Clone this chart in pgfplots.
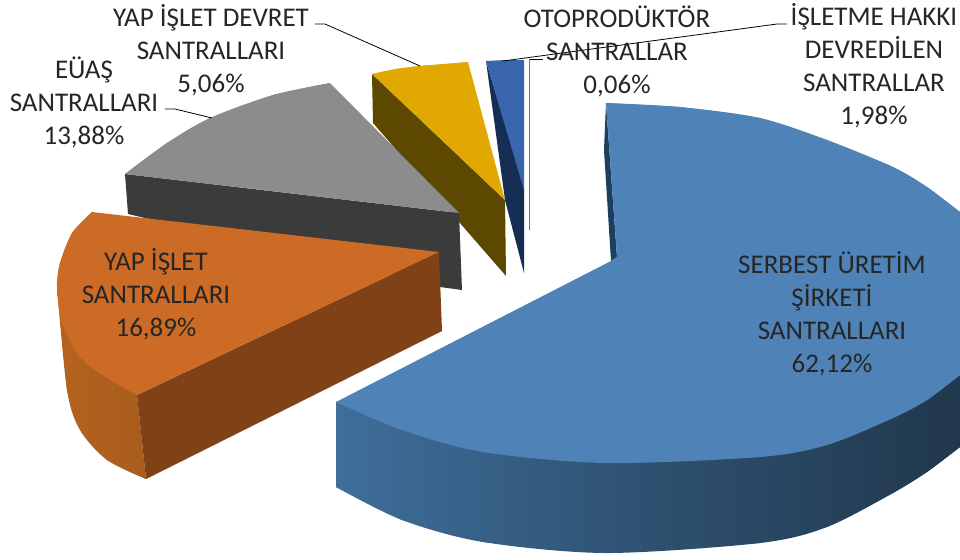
\documentclass[border=0pt]{standalone}
\usepackage{fontspec}
\setmainfont{Carlito}
\usepackage{pgfplots}
\pgfplotsset{compat=1.18}
\definecolor{TXT}{HTML}{262626}
\definecolor{BLUE}{HTML}{4F83B7}
\definecolor{BLUED}{HTML}{1D3F5F}
\definecolor{BL}{HTML}{3F6E9B}
\definecolor{BM}{HTML}{2E5170}
\definecolor{BR}{HTML}{21374D}
\definecolor{ORG}{HTML}{CC6B26}
\definecolor{ORGD}{HTML}{7F4115}
\definecolor{ORL}{HTML}{B5631F}
\definecolor{ORR}{HTML}{A85C1C}
\definecolor{GRY}{HTML}{8C8C8C}
\definecolor{GRYD}{HTML}{3B3B3B}
\definecolor{GLD}{HTML}{E0A800}
\definecolor{GLDD}{HTML}{5C4800}
\definecolor{SBL}{HTML}{3A66AE}
\definecolor{SBLD}{HTML}{162E55}
\begin{document}
\begin{tikzpicture}
\path[use as bounding box] (0,0) rectangle (480pt,279.5pt);
\begin{axis}[
  at={(0,0)}, anchor=south west,
  width=480pt, height=279.5pt,
  scale only axis,
  xmin=0, xmax=960, ymin=0, ymax=559,
  y dir=reverse,
  hide axis,
  clip=true,
  every axis plot/.append style={forget plot},
]
% gold slice
\addplot[fill=GLDD, draw=none] coordinates {(372,74) (505,200) (506,276) (373,123)} -- cycle;
\addplot[fill=GLD, draw=none, smooth] coordinates {(372,74) (396,69) (420,66) (445,64) (468,62)};
\addplot[fill=GLD, draw=none] coordinates {(372,74) (396,69) (420,66) (445,64) (468,62) (505,200)} -- cycle;
% small blue slice
\addplot[fill=SBLD, draw=none] coordinates {(486,61) (505,200) (524,273) (524,188)} -- cycle;
\addplot[fill=SBL, draw=none] coordinates {(486,61) (505,60) (524,60) (524,190)} -- cycle;
% sliver
\addplot[draw=gray!70!green!60!black, line width=0.7pt, opacity=0.8] coordinates {(529.5,59) (529.5,230)};
% grey slice
\addplot[fill=GRYD, draw=none] coordinates {(125,174) (459,213) (462,290) (440,287) (128,214)} -- cycle;
\addplot[fill=GRY, draw=none, smooth] coordinates {(330,83) (273,95) (210,118) (167,143) (125,174)};
\addplot[fill=GRY, draw=none] coordinates {(330,83) (273,95) (210,118) (167,143) (125,174) (459,213)} -- cycle;
% orange slice
\addplot[left color=ORL, right color=ORR, draw=none, smooth] coordinates {(57,287) (67,390) (80,430) (107,460) (146,479)};
\addplot[left color=ORL, right color=ORR, draw=none] coordinates {(57,287) (67,390) (80,430) (107,460) (146,479) (137,395)} -- cycle;
\addplot[fill=ORGD, draw=none] coordinates {(137,395) (439,252) (442,331) (146,479)} -- cycle;
\addplot[fill=ORG, draw=none, smooth] coordinates {(92,212) (72,233) (60,263) (57,287) (62,323) (80,357) (107,378) (137,395)};
\addplot[fill=ORG, draw=none] coordinates {(92,212) (72,233) (60,263) (57,287) (62,323) (80,357) (107,378) (137,395) (439,252)} -- cycle;
% big blue slice
\addplot[fill=BLUED, draw=none] coordinates {(606,103) (604,150) (611,261) (617,257)} -- cycle;
\addplot[left color=BL, right color=BR, middle color=BM, draw=none, smooth] coordinates {(336,487) (402,520) (483,542) (606,553) (760,543) (827,527) (893,493) (927,472) (960,447)};
\addplot[left color=BL, right color=BR, middle color=BM, draw=none] coordinates {(336,402) (336,487) (402,520) (483,542) (606,553) (760,543) (827,527) (893,493) (927,472) (960,447) (960,373)} -- cycle;
\addplot[fill=BLUE, draw=none, smooth] coordinates {(606,103) (680,107) (760,118) (827,140) (893,167) (927,187) (960,212)};
\addplot[fill=BLUE, draw=none, smooth] coordinates {(336,402) (402,430) (483,452) (606,463) (760,457) (827,445) (893,418) (927,400) (960,375)};
\addplot[fill=BLUE, draw=none] coordinates {(606,103) (680,107) (760,118) (827,140) (893,167) (927,187) (960,212) (960,375) (927,400) (893,418) (827,445) (760,457) (606,463) (483,452) (402,430) (336,402) (611,261) (617,257)} -- cycle;
% leader lines
\addplot[black, line width=0.4pt] coordinates {(315,24) (325,24) (420,66)};
\addplot[black, line width=0.4pt] coordinates {(165,109) (175,109) (212,118)};
\addplot[black, line width=0.4pt] coordinates {(787,24) (777,24) (503,61)};
\addplot[black, line width=0.4pt] coordinates {(530,59) (543,59)};
\end{axis}
% labels, in axis pixels halved
\begin{scope}[x=0.5pt, y=-0.5pt, shift={(0,-559)}, every node/.style={font=\fontsize{13.5}{16.5}\selectfont, text=TXT, align=center, anchor=center}]
\node at (211,50) {YAP İŞLET DEVRET\\SANTRALLARI\\5,06\%};
\node at (84,102) {EÜAŞ\\SANTRALLARI\\13,88\%};
\node at (156,294) {YAP İŞLET\\SANTRALLARI\\16,89\%};
\node at (617,51) {OTOPRODÜKTÖR\\SANTRALLAR\\0,06\%};
\node at (874,66) {İŞLETME HAKKI\\DEVREDİLEN\\SANTRALLAR\\1,98\%};
\node at (832,314) {SERBEST ÜRETİM\\ŞİRKETİ\\SANTRALLARI\\62,12\%};
\end{scope}
\end{tikzpicture}
\end{document}
